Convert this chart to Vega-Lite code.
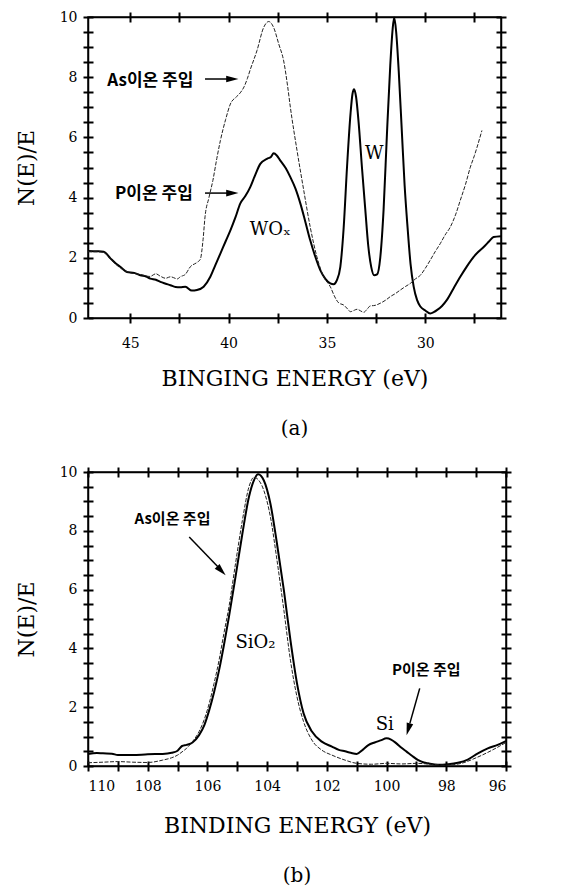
{
  "$schema": "https://vega.github.io/schema/vega-lite/v6.json",
  "background": "white",
  "padding": {"left": 14, "top": 9, "right": 6, "bottom": 0},
  "spacing": 154,
  "bounds": "flush",
  "datasets": {
    "a_curves": [
      {"s": "P", "e": 47.15, "v": 2.23}, {"s": "P", "e": 46.7, "v": 2.22}, {"s": "P", "e": 46.35, "v": 2.2}, {"s": "P", "e": 46.01, "v": 1.98},
      {"s": "P", "e": 45.75, "v": 1.82}, {"s": "P", "e": 45.51, "v": 1.7}, {"s": "P", "e": 45.17, "v": 1.53}, {"s": "P", "e": 44.8, "v": 1.5},
      {"s": "P", "e": 44.49, "v": 1.42}, {"s": "P", "e": 44.2, "v": 1.38}, {"s": "P", "e": 43.98, "v": 1.31}, {"s": "P", "e": 43.7, "v": 1.27},
      {"s": "P", "e": 43.47, "v": 1.2}, {"s": "P", "e": 43.2, "v": 1.14}, {"s": "P", "e": 42.96, "v": 1.09}, {"s": "P", "e": 42.7, "v": 1.03},
      {"s": "P", "e": 42.46, "v": 1.02}, {"s": "P", "e": 42.2, "v": 1.04}, {"s": "P", "e": 41.87, "v": 0.91}, {"s": "P", "e": 41.61, "v": 0.93},
      {"s": "P", "e": 41.27, "v": 1.04}, {"s": "P", "e": 40.93, "v": 1.37}, {"s": "P", "e": 40.68, "v": 1.75}, {"s": "P", "e": 40.42, "v": 2.14},
      {"s": "P", "e": 40.15, "v": 2.55}, {"s": "P", "e": 39.91, "v": 2.91}, {"s": "P", "e": 39.65, "v": 3.35}, {"s": "P", "e": 39.41, "v": 3.8},
      {"s": "P", "e": 39.15, "v": 4.05}, {"s": "P", "e": 38.9, "v": 4.35}, {"s": "P", "e": 38.65, "v": 4.75}, {"s": "P", "e": 38.39, "v": 5.12},
      {"s": "P", "e": 38.05, "v": 5.29}, {"s": "P", "e": 37.85, "v": 5.35}, {"s": "P", "e": 37.71, "v": 5.47}, {"s": "P", "e": 37.55, "v": 5.4},
      {"s": "P", "e": 37.37, "v": 5.23}, {"s": "P", "e": 37.1, "v": 4.98}, {"s": "P", "e": 36.86, "v": 4.68}, {"s": "P", "e": 36.6, "v": 4.3},
      {"s": "P", "e": 36.35, "v": 3.8}, {"s": "P", "e": 36.1, "v": 3.2}, {"s": "P", "e": 35.85, "v": 2.58}, {"s": "P", "e": 35.6, "v": 2.05},
      {"s": "P", "e": 35.34, "v": 1.59}, {"s": "P", "e": 35.08, "v": 1.3}, {"s": "P", "e": 34.83, "v": 1.15}, {"s": "P", "e": 34.66, "v": 1.12},
      {"s": "P", "e": 34.5, "v": 1.25}, {"s": "P", "e": 34.32, "v": 1.7}, {"s": "P", "e": 34.15, "v": 3.0}, {"s": "P", "e": 33.98, "v": 5.01},
      {"s": "P", "e": 33.8, "v": 6.8}, {"s": "P", "e": 33.7, "v": 7.45}, {"s": "P", "e": 33.62, "v": 7.6}, {"s": "P", "e": 33.52, "v": 7.35},
      {"s": "P", "e": 33.39, "v": 6.5}, {"s": "P", "e": 33.22, "v": 5.0}, {"s": "P", "e": 33.05, "v": 3.6}, {"s": "P", "e": 32.9, "v": 2.4},
      {"s": "P", "e": 32.75, "v": 1.7}, {"s": "P", "e": 32.6, "v": 1.42}, {"s": "P", "e": 32.45, "v": 1.45}, {"s": "P", "e": 32.29, "v": 2.0},
      {"s": "P", "e": 32.12, "v": 3.6}, {"s": "P", "e": 31.95, "v": 6.11}, {"s": "P", "e": 31.78, "v": 8.4}, {"s": "P", "e": 31.66, "v": 9.6},
      {"s": "P", "e": 31.58, "v": 9.98}, {"s": "P", "e": 31.48, "v": 9.5}, {"s": "P", "e": 31.35, "v": 8.2}, {"s": "P", "e": 31.2, "v": 6.3},
      {"s": "P", "e": 31.05, "v": 4.4}, {"s": "P", "e": 30.9, "v": 3.0}, {"s": "P", "e": 30.75, "v": 1.8}, {"s": "P", "e": 30.59, "v": 1.04},
      {"s": "P", "e": 30.42, "v": 0.6}, {"s": "P", "e": 30.25, "v": 0.38}, {"s": "P", "e": 30.0, "v": 0.25}, {"s": "P", "e": 29.75, "v": 0.15},
      {"s": "P", "e": 29.55, "v": 0.2}, {"s": "P", "e": 29.41, "v": 0.26}, {"s": "P", "e": 29.15, "v": 0.4}, {"s": "P", "e": 28.9, "v": 0.6},
      {"s": "P", "e": 28.55, "v": 1.0}, {"s": "P", "e": 28.22, "v": 1.37}, {"s": "P", "e": 27.9, "v": 1.7}, {"s": "P", "e": 27.54, "v": 2.03},
      {"s": "P", "e": 27.3, "v": 2.2}, {"s": "P", "e": 27.03, "v": 2.36}, {"s": "P", "e": 26.75, "v": 2.55}, {"s": "P", "e": 26.53, "v": 2.69},
      {"s": "P", "e": 26.15, "v": 2.72},
      {"s": "As", "e": 47.15, "v": 2.2}, {"s": "As", "e": 46.7, "v": 2.2}, {"s": "As", "e": 46.35, "v": 2.18}, {"s": "As", "e": 46.0, "v": 1.95},
      {"s": "As", "e": 45.5, "v": 1.66}, {"s": "As", "e": 45.0, "v": 1.5}, {"s": "As", "e": 44.5, "v": 1.45}, {"s": "As", "e": 44.0, "v": 1.38},
      {"s": "As", "e": 43.7, "v": 1.47}, {"s": "As", "e": 43.5, "v": 1.4}, {"s": "As", "e": 43.2, "v": 1.32}, {"s": "As", "e": 42.96, "v": 1.37},
      {"s": "As", "e": 42.6, "v": 1.3}, {"s": "As", "e": 42.46, "v": 1.37}, {"s": "As", "e": 42.2, "v": 1.45}, {"s": "As", "e": 41.95, "v": 1.7},
      {"s": "As", "e": 41.6, "v": 1.85}, {"s": "As", "e": 41.44, "v": 1.95}, {"s": "As", "e": 41.3, "v": 2.6}, {"s": "As", "e": 41.2, "v": 3.36},
      {"s": "As", "e": 41.0, "v": 4.0}, {"s": "As", "e": 40.8, "v": 4.57}, {"s": "As", "e": 40.6, "v": 5.3}, {"s": "As", "e": 40.42, "v": 5.89},
      {"s": "As", "e": 40.15, "v": 6.6}, {"s": "As", "e": 39.91, "v": 7.11}, {"s": "As", "e": 39.6, "v": 7.35}, {"s": "As", "e": 39.41, "v": 7.48},
      {"s": "As", "e": 39.2, "v": 7.7}, {"s": "As", "e": 39.05, "v": 7.95}, {"s": "As", "e": 38.9, "v": 8.25}, {"s": "As", "e": 38.56, "v": 8.88},
      {"s": "As", "e": 38.22, "v": 9.65}, {"s": "As", "e": 37.96, "v": 9.85}, {"s": "As", "e": 37.71, "v": 9.65}, {"s": "As", "e": 37.45, "v": 9.1},
      {"s": "As", "e": 37.2, "v": 8.54}, {"s": "As", "e": 37.0, "v": 7.7}, {"s": "As", "e": 36.86, "v": 7.0}, {"s": "As", "e": 36.52, "v": 5.56},
      {"s": "As", "e": 36.18, "v": 4.24}, {"s": "As", "e": 35.85, "v": 3.02}, {"s": "As", "e": 35.51, "v": 2.03}, {"s": "As", "e": 35.17, "v": 1.37},
      {"s": "As", "e": 34.83, "v": 1.04}, {"s": "As", "e": 34.6, "v": 0.7}, {"s": "As", "e": 34.4, "v": 0.5}, {"s": "As", "e": 34.15, "v": 0.43},
      {"s": "As", "e": 33.95, "v": 0.3}, {"s": "As", "e": 33.81, "v": 0.21}, {"s": "As", "e": 33.6, "v": 0.26}, {"s": "As", "e": 33.47, "v": 0.29},
      {"s": "As", "e": 33.3, "v": 0.24}, {"s": "As", "e": 33.13, "v": 0.19}, {"s": "As", "e": 32.95, "v": 0.3}, {"s": "As", "e": 32.8, "v": 0.4},
      {"s": "As", "e": 32.55, "v": 0.42}, {"s": "As", "e": 32.29, "v": 0.49}, {"s": "As", "e": 32.0, "v": 0.6}, {"s": "As", "e": 31.78, "v": 0.71},
      {"s": "As", "e": 31.5, "v": 0.82}, {"s": "As", "e": 31.27, "v": 0.93}, {"s": "As", "e": 31.0, "v": 1.05}, {"s": "As", "e": 30.76, "v": 1.15},
      {"s": "As", "e": 30.5, "v": 1.3}, {"s": "As", "e": 30.25, "v": 1.42}, {"s": "As", "e": 30.0, "v": 1.65}, {"s": "As", "e": 29.75, "v": 1.92},
      {"s": "As", "e": 29.5, "v": 2.2}, {"s": "As", "e": 29.24, "v": 2.47}, {"s": "As", "e": 29.0, "v": 2.75}, {"s": "As", "e": 28.73, "v": 3.02},
      {"s": "As", "e": 28.45, "v": 3.45}, {"s": "As", "e": 28.22, "v": 3.91}, {"s": "As", "e": 27.95, "v": 4.45}, {"s": "As", "e": 27.71, "v": 5.01},
      {"s": "As", "e": 27.5, "v": 5.4}, {"s": "As", "e": 27.37, "v": 5.67}, {"s": "As", "e": 27.12, "v": 6.23}
    ],
    "b_curves": [
      {"s": "P", "e": 110.0, "v": 0.41}, {"s": "P", "e": 109.7, "v": 0.44}, {"s": "P", "e": 109.5, "v": 0.43}, {"s": "P", "e": 109.2, "v": 0.42},
      {"s": "P", "e": 109.0, "v": 0.37}, {"s": "P", "e": 108.5, "v": 0.37}, {"s": "P", "e": 108.0, "v": 0.4}, {"s": "P", "e": 107.5, "v": 0.41},
      {"s": "P", "e": 107.2, "v": 0.45}, {"s": "P", "e": 107.0, "v": 0.52}, {"s": "P", "e": 106.85, "v": 0.68}, {"s": "P", "e": 106.7, "v": 0.72},
      {"s": "P", "e": 106.5, "v": 0.8}, {"s": "P", "e": 106.28, "v": 1.05}, {"s": "P", "e": 106.1, "v": 1.4}, {"s": "P", "e": 105.94, "v": 1.9},
      {"s": "P", "e": 105.78, "v": 2.5}, {"s": "P", "e": 105.61, "v": 3.26}, {"s": "P", "e": 105.45, "v": 4.1}, {"s": "P", "e": 105.28, "v": 5.07},
      {"s": "P", "e": 105.06, "v": 6.43}, {"s": "P", "e": 104.83, "v": 7.9}, {"s": "P", "e": 104.61, "v": 9.15}, {"s": "P", "e": 104.45, "v": 9.7},
      {"s": "P", "e": 104.3, "v": 9.92}, {"s": "P", "e": 104.11, "v": 9.71}, {"s": "P", "e": 103.89, "v": 8.92}, {"s": "P", "e": 103.67, "v": 7.56},
      {"s": "P", "e": 103.44, "v": 5.98}, {"s": "P", "e": 103.22, "v": 4.28}, {"s": "P", "e": 103.0, "v": 2.81}, {"s": "P", "e": 102.78, "v": 1.79},
      {"s": "P", "e": 102.5, "v": 1.17}, {"s": "P", "e": 102.17, "v": 0.83}, {"s": "P", "e": 101.83, "v": 0.66}, {"s": "P", "e": 101.6, "v": 0.55},
      {"s": "P", "e": 101.39, "v": 0.5}, {"s": "P", "e": 101.2, "v": 0.45}, {"s": "P", "e": 101.0, "v": 0.41}, {"s": "P", "e": 100.8, "v": 0.55},
      {"s": "P", "e": 100.61, "v": 0.71}, {"s": "P", "e": 100.4, "v": 0.8}, {"s": "P", "e": 100.2, "v": 0.87}, {"s": "P", "e": 100.0, "v": 0.94},
      {"s": "P", "e": 99.85, "v": 0.9}, {"s": "P", "e": 99.67, "v": 0.77}, {"s": "P", "e": 99.5, "v": 0.62}, {"s": "P", "e": 99.33, "v": 0.49},
      {"s": "P", "e": 99.15, "v": 0.35}, {"s": "P", "e": 98.94, "v": 0.2}, {"s": "P", "e": 98.75, "v": 0.12}, {"s": "P", "e": 98.61, "v": 0.09},
      {"s": "P", "e": 98.28, "v": 0.04}, {"s": "P", "e": 97.94, "v": 0.06}, {"s": "P", "e": 97.61, "v": 0.11}, {"s": "P", "e": 97.28, "v": 0.22},
      {"s": "P", "e": 96.94, "v": 0.43}, {"s": "P", "e": 96.61, "v": 0.6}, {"s": "P", "e": 96.28, "v": 0.72}, {"s": "P", "e": 96.0, "v": 0.85},
      {"s": "As", "e": 110.0, "v": 0.11}, {"s": "As", "e": 109.5, "v": 0.13}, {"s": "As", "e": 109.0, "v": 0.15}, {"s": "As", "e": 108.5, "v": 0.13},
      {"s": "As", "e": 108.0, "v": 0.12}, {"s": "As", "e": 107.5, "v": 0.2}, {"s": "As", "e": 107.2, "v": 0.28}, {"s": "As", "e": 107.0, "v": 0.37},
      {"s": "As", "e": 106.85, "v": 0.48}, {"s": "As", "e": 106.7, "v": 0.6}, {"s": "As", "e": 106.5, "v": 0.83}, {"s": "As", "e": 106.28, "v": 1.17},
      {"s": "As", "e": 106.1, "v": 1.6}, {"s": "As", "e": 105.94, "v": 2.13}, {"s": "As", "e": 105.78, "v": 2.8}, {"s": "As", "e": 105.61, "v": 3.6},
      {"s": "As", "e": 105.45, "v": 4.5}, {"s": "As", "e": 105.28, "v": 5.41}, {"s": "As", "e": 105.06, "v": 6.88}, {"s": "As", "e": 104.83, "v": 8.35},
      {"s": "As", "e": 104.61, "v": 9.49}, {"s": "As", "e": 104.44, "v": 9.82}, {"s": "As", "e": 104.33, "v": 9.77}, {"s": "As", "e": 104.11, "v": 9.37},
      {"s": "As", "e": 103.89, "v": 8.47}, {"s": "As", "e": 103.67, "v": 7.0}, {"s": "As", "e": 103.44, "v": 5.3}, {"s": "As", "e": 103.22, "v": 3.6},
      {"s": "As", "e": 103.0, "v": 2.35}, {"s": "As", "e": 102.78, "v": 1.51}, {"s": "As", "e": 102.5, "v": 0.88}, {"s": "As", "e": 102.17, "v": 0.54},
      {"s": "As", "e": 101.83, "v": 0.37}, {"s": "As", "e": 101.39, "v": 0.2}, {"s": "As", "e": 101.0, "v": 0.09}, {"s": "As", "e": 100.5, "v": 0.06},
      {"s": "As", "e": 100.0, "v": 0.09}, {"s": "As", "e": 99.5, "v": 0.07}, {"s": "As", "e": 99.0, "v": 0.09}, {"s": "As", "e": 98.5, "v": 0.06},
      {"s": "As", "e": 98.0, "v": 0.03}, {"s": "As", "e": 97.5, "v": 0.09}, {"s": "As", "e": 97.0, "v": 0.28}, {"s": "As", "e": 96.5, "v": 0.52},
      {"s": "As", "e": 96.0, "v": 0.8}
    ],
    "a_kor": [
      {"t": "As이온 주입", "e": 43.98, "v": 7.88},
      {"t": "P이온 주입", "e": 43.8, "v": 4.13}
    ],
    "a_lbl": [
      {"t": "WOₓ", "e": 37.88, "v": 2.91},
      {"t": "W", "e": 32.6, "v": 5.45}
    ],
    "a_shaft": [
      {"e1": 41.2, "e2": 39.9, "v1": 7.94, "v2": 7.94},
      {"e1": 41.2, "e2": 39.9, "v1": 4.15, "v2": 4.15}
    ],
    "a_head": [
      {"e": 39.5, "v": 7.94},
      {"e": 39.5, "v": 4.15}
    ],
    "b_kor": [
      {"t": "As이온 주입", "e": 107.17, "v": 8.41},
      {"t": "P이온 주입", "e": 98.67, "v": 3.26}
    ],
    "b_lbl": [
      {"t": "SiO₂", "e": 104.39, "v": 4.17},
      {"t": "Si", "e": 100.06, "v": 1.39}
    ],
    "b_shaft": [
      {"e1": 106.61, "e2": 105.65, "v1": 7.79, "v2": 6.78},
      {"e1": 98.89, "e2": 99.22, "v1": 2.64, "v2": 1.45}
    ],
    "b_head1": [{"e": 105.39, "v": 6.49}],
    "b_head2": [{"e": 99.33, "v": 1.05}]
  },
  "vconcat": [
    {
      "width": 413,
      "height": 301,
      "title": {"text": "(a)", "orient": "bottom", "offset": 30, "font": "DejaVu Serif", "fontSize": 20, "fontWeight": "normal", "color": "black"},
      "layer": [
        {
          "data": {"name": "a_curves"},
          "transform": [{"filter": "datum.s === 'P'"}],
          "mark": {"type": "line", "color": "black", "strokeWidth": 2, "interpolate": "monotone"},
          "encoding": {
            "x": {"field": "e", "type": "quantitative", "scale": {"domain": [26.15, 47.15], "reverse": true, "nice": false, "zero": false},
                  "axis": {"orient": "bottom", "title": "BINGING ENERGY (eV)", "values": [45, 42.5, 40, 37.5, 35, 32.5, 30, 27.5],
                           "ticks": true, "tickSize": 5, "tickWidth": 2, "tickColor": "black", "tickOpacity": 1,
                           "labelExpr": "datum.value % 5 === 0 ? format(datum.value, 'd') : ''", "labelPadding": 13, "titlePadding": 18}},
            "y": {"field": "v", "type": "quantitative", "scale": {"domain": [0, 10], "nice": false},
                  "axis": {"orient": "left", "title": "N(E)/E", "values": [0,0.5,1,1.5,2,2.5,3,3.5,4,4.5,5,5.5,6,6.5,7,7.5,8,8.5,9,9.5,10],
                           "ticks": true, "tickSize": 5, "tickWidth": 2, "tickColor": "black", "tickOpacity": 1,
                           "labelExpr": "datum.value % 2 === 0 ? format(datum.value, 'd') : ''", "labelPadding": 6, "titlePadding": 21}}
          }
        },
        {
          "data": {"name": "a_curves"},
          "transform": [{"filter": "datum.s === 'As'"}],
          "mark": {"type": "line", "color": "#222", "strokeWidth": 1, "strokeDash": [4, 1.5], "interpolate": "monotone"},
          "encoding": {
            "x": {"field": "e", "type": "quantitative", "scale": {"domain": [26.15, 47.15], "reverse": true, "nice": false, "zero": false},
                  "axis": {"orient": "top", "title": null, "labels": false, "ticks": true, "tickSize": 5, "tickWidth": 2, "tickColor": "black", "tickOpacity": 1,
                           "values": [45, 42.5, 40, 37.5, 35, 32.5, 30, 27.5]}},
            "y": {"field": "v", "type": "quantitative", "scale": {"domain": [0, 10], "nice": false},
                  "axis": {"orient": "right", "title": null, "labels": false, "ticks": true, "tickSize": 5, "tickWidth": 2, "tickColor": "black", "tickOpacity": 1,
                           "values": [0,0.5,1,1.5,2,2.5,3,3.5,4,4.5,5,5.5,6,6.5,7,7.5,8,8.5,9,9.5,10]}}
          }
        },
        {
          "data": {"name": "a_shaft"},
          "mark": {"type": "rule", "color": "black", "strokeWidth": 1.5},
          "encoding": {
            "x": {"field": "e1", "type": "quantitative",
                  "axis": {"orient": "bottom", "title": null, "labels": false, "domain": false, "ticks": true, "tickSize": -5, "tickWidth": 2, "tickColor": "black", "tickOpacity": 1,
                           "values": [45, 42.5, 40, 37.5, 35, 32.5, 30, 27.5]}},
            "x2": {"field": "e2"},
            "y": {"field": "v1", "type": "quantitative",
                  "axis": {"orient": "left", "title": null, "labels": false, "domain": false, "ticks": true, "tickSize": -5, "tickWidth": 2, "tickColor": "black", "tickOpacity": 1,
                           "values": [0,0.5,1,1.5,2,2.5,3,3.5,4,4.5,5,5.5,6,6.5,7,7.5,8,8.5,9,9.5,10]}},
            "y2": {"field": "v2"}
          }
        },
        {
          "data": {"name": "a_head"},
          "mark": {"type": "point", "shape": "M -2 -0.55 L 0 0 L -2 0.55 Z", "filled": true, "color": "black", "size": 150, "opacity": 1, "angle": 0},
          "encoding": {
            "x": {"field": "e", "type": "quantitative",
                  "axis": {"orient": "top", "title": null, "labels": false, "domain": false, "ticks": true, "tickSize": -5, "tickWidth": 2, "tickColor": "black", "tickOpacity": 1,
                           "values": [45, 42.5, 40, 37.5, 35, 32.5, 30, 27.5]}},
            "y": {"field": "v", "type": "quantitative",
                  "axis": {"orient": "right", "title": null, "labels": false, "domain": false, "ticks": true, "tickSize": -5, "tickWidth": 2, "tickColor": "black", "tickOpacity": 1,
                           "values": [0,0.5,1,1.5,2,2.5,3,3.5,4,4.5,5,5.5,6,6.5,7,7.5,8,8.5,9,9.5,10]}}
          }
        },
        {
          "data": {"name": "a_kor"},
          "mark": {"type": "text", "font": "Noto Sans CJK KR", "fontSize": 17, "fontWeight": "bold", "color": "black"},
          "encoding": {
            "x": {"field": "e", "type": "quantitative", "axis": null},
            "y": {"field": "v", "type": "quantitative", "axis": null},
            "text": {"field": "t"}
          }
        },
        {
          "data": {"name": "a_lbl"},
          "mark": {"type": "text", "font": "DejaVu Serif", "fontSize": 18, "color": "black"},
          "encoding": {
            "x": {"field": "e", "type": "quantitative", "axis": null},
            "y": {"field": "v", "type": "quantitative", "axis": null},
            "text": {"field": "t"}
          }
        }
      ],
      "resolve": {"axis": {"x": "independent", "y": "independent"}}
    },
    {
      "width": 418,
      "height": 294,
      "title": {"text": "(b)", "orient": "bottom", "offset": 30, "font": "DejaVu Serif", "fontSize": 20, "fontWeight": "normal", "color": "black"},
      "layer": [
        {
          "data": {"name": "b_curves"},
          "transform": [{"filter": "datum.s === 'P'"}],
          "mark": {"type": "line", "color": "black", "strokeWidth": 2, "interpolate": "monotone"},
          "encoding": {
            "x": {"field": "e", "type": "quantitative", "scale": {"domain": [96, 110], "reverse": true, "nice": false, "zero": false},
                  "axis": {"orient": "bottom", "title": "BINDING ENERGY (eV)", "values": [96,97,98,99,100,101,102,103,104,105,106,107,108,109,110],
                           "ticks": true, "tickSize": 5, "tickWidth": 2, "tickColor": "black", "tickOpacity": 1,
                           "labelExpr": "datum.value % 2 === 0 ? format(datum.value, 'd') : ''", "labelPadding": 8, "titlePadding": 22}},
            "y": {"field": "v", "type": "quantitative", "scale": {"domain": [0, 10], "nice": false},
                  "axis": {"orient": "left", "title": "N(E)/E", "values": [0,0.5,1,1.5,2,2.5,3,3.5,4,4.5,5,5.5,6,6.5,7,7.5,8,8.5,9,9.5,10],
                           "ticks": true, "tickSize": 5, "tickWidth": 2, "tickColor": "black", "tickOpacity": 1,
                           "labelExpr": "datum.value % 2 === 0 ? format(datum.value, 'd') : ''", "labelPadding": 6, "titlePadding": 21}}
          }
        },
        {
          "data": {"name": "b_curves"},
          "transform": [{"filter": "datum.s === 'As'"}],
          "mark": {"type": "line", "color": "#222", "strokeWidth": 1, "strokeDash": [4, 1.5], "interpolate": "monotone"},
          "encoding": {
            "x": {"field": "e", "type": "quantitative", "scale": {"domain": [96, 110], "reverse": true, "nice": false, "zero": false},
                  "axis": {"orient": "top", "title": null, "labels": false, "ticks": true, "tickSize": 5, "tickWidth": 2, "tickColor": "black", "tickOpacity": 1,
                           "values": [96,97,98,99,100,101,102,103,104,105,106,107,108,109,110]}},
            "y": {"field": "v", "type": "quantitative", "scale": {"domain": [0, 10], "nice": false},
                  "axis": {"orient": "right", "title": null, "labels": false, "ticks": true, "tickSize": 5, "tickWidth": 2, "tickColor": "black", "tickOpacity": 1,
                           "values": [0,0.5,1,1.5,2,2.5,3,3.5,4,4.5,5,5.5,6,6.5,7,7.5,8,8.5,9,9.5,10]}}
          }
        },
        {
          "data": {"name": "b_shaft"},
          "mark": {"type": "rule", "color": "black", "strokeWidth": 1.5},
          "encoding": {
            "x": {"field": "e1", "type": "quantitative",
                  "axis": {"orient": "bottom", "title": null, "labels": false, "domain": false, "ticks": true, "tickSize": -5, "tickWidth": 2, "tickColor": "black", "tickOpacity": 1,
                           "values": [96,97,98,99,100,101,102,103,104,105,106,107,108,109,110]}},
            "x2": {"field": "e2"},
            "y": {"field": "v1", "type": "quantitative",
                  "axis": {"orient": "left", "title": null, "labels": false, "domain": false, "ticks": true, "tickSize": -5, "tickWidth": 2, "tickColor": "black", "tickOpacity": 1,
                           "values": [0,0.5,1,1.5,2,2.5,3,3.5,4,4.5,5,5.5,6,6.5,7,7.5,8,8.5,9,9.5,10]}},
            "y2": {"field": "v2"}
          }
        },
        {
          "data": {"name": "b_head1"},
          "mark": {"type": "point", "shape": "M -2 -0.55 L 0 0 L -2 0.55 Z", "filled": true, "color": "black", "size": 150, "opacity": 1, "angle": 46},
          "encoding": {
            "x": {"field": "e", "type": "quantitative",
                  "axis": {"orient": "top", "title": null, "labels": false, "domain": false, "ticks": true, "tickSize": -5, "tickWidth": 2, "tickColor": "black", "tickOpacity": 1,
                           "values": [96,97,98,99,100,101,102,103,104,105,106,107,108,109,110]}},
            "y": {"field": "v", "type": "quantitative",
                  "axis": {"orient": "right", "title": null, "labels": false, "domain": false, "ticks": true, "tickSize": -5, "tickWidth": 2, "tickColor": "black", "tickOpacity": 1,
                           "values": [0,0.5,1,1.5,2,2.5,3,3.5,4,4.5,5,5.5,6,6.5,7,7.5,8,8.5,9,9.5,10]}}
          }
        },
        {
          "data": {"name": "b_head2"},
          "mark": {"type": "point", "shape": "M -2 -0.55 L 0 0 L -2 0.55 Z", "filled": true, "color": "black", "size": 150, "opacity": 1, "angle": 106},
          "encoding": {
            "x": {"field": "e", "type": "quantitative", "axis": null},
            "y": {"field": "v", "type": "quantitative", "axis": null}
          }
        },
        {
          "data": {"name": "b_kor"},
          "mark": {"type": "text", "font": "Noto Sans CJK KR", "fontSize": 15, "fontWeight": "bold", "color": "black"},
          "encoding": {
            "x": {"field": "e", "type": "quantitative", "axis": null},
            "y": {"field": "v", "type": "quantitative", "axis": null},
            "text": {"field": "t"}
          }
        },
        {
          "data": {"name": "b_lbl"},
          "mark": {"type": "text", "font": "DejaVu Serif", "fontSize": 18, "color": "black"},
          "encoding": {
            "x": {"field": "e", "type": "quantitative", "axis": null},
            "y": {"field": "v", "type": "quantitative", "axis": null},
            "text": {"field": "t"}
          }
        }
      ],
      "resolve": {"axis": {"x": "independent", "y": "independent"}}
    }
  ],
  "config": {
    "view": {"stroke": "black", "strokeWidth": 1.5},
    "axis": {
      "grid": false,
      "domainColor": "black", "domainWidth": 1.5,
      "labelFont": "DejaVu Serif", "labelFontSize": 14, "labelFontWeight": "normal", "labelColor": "black",
      "titleFont": "DejaVu Serif", "titleFontSize": 22, "titleFontWeight": "normal", "titleColor": "black"
    }
  }
}
